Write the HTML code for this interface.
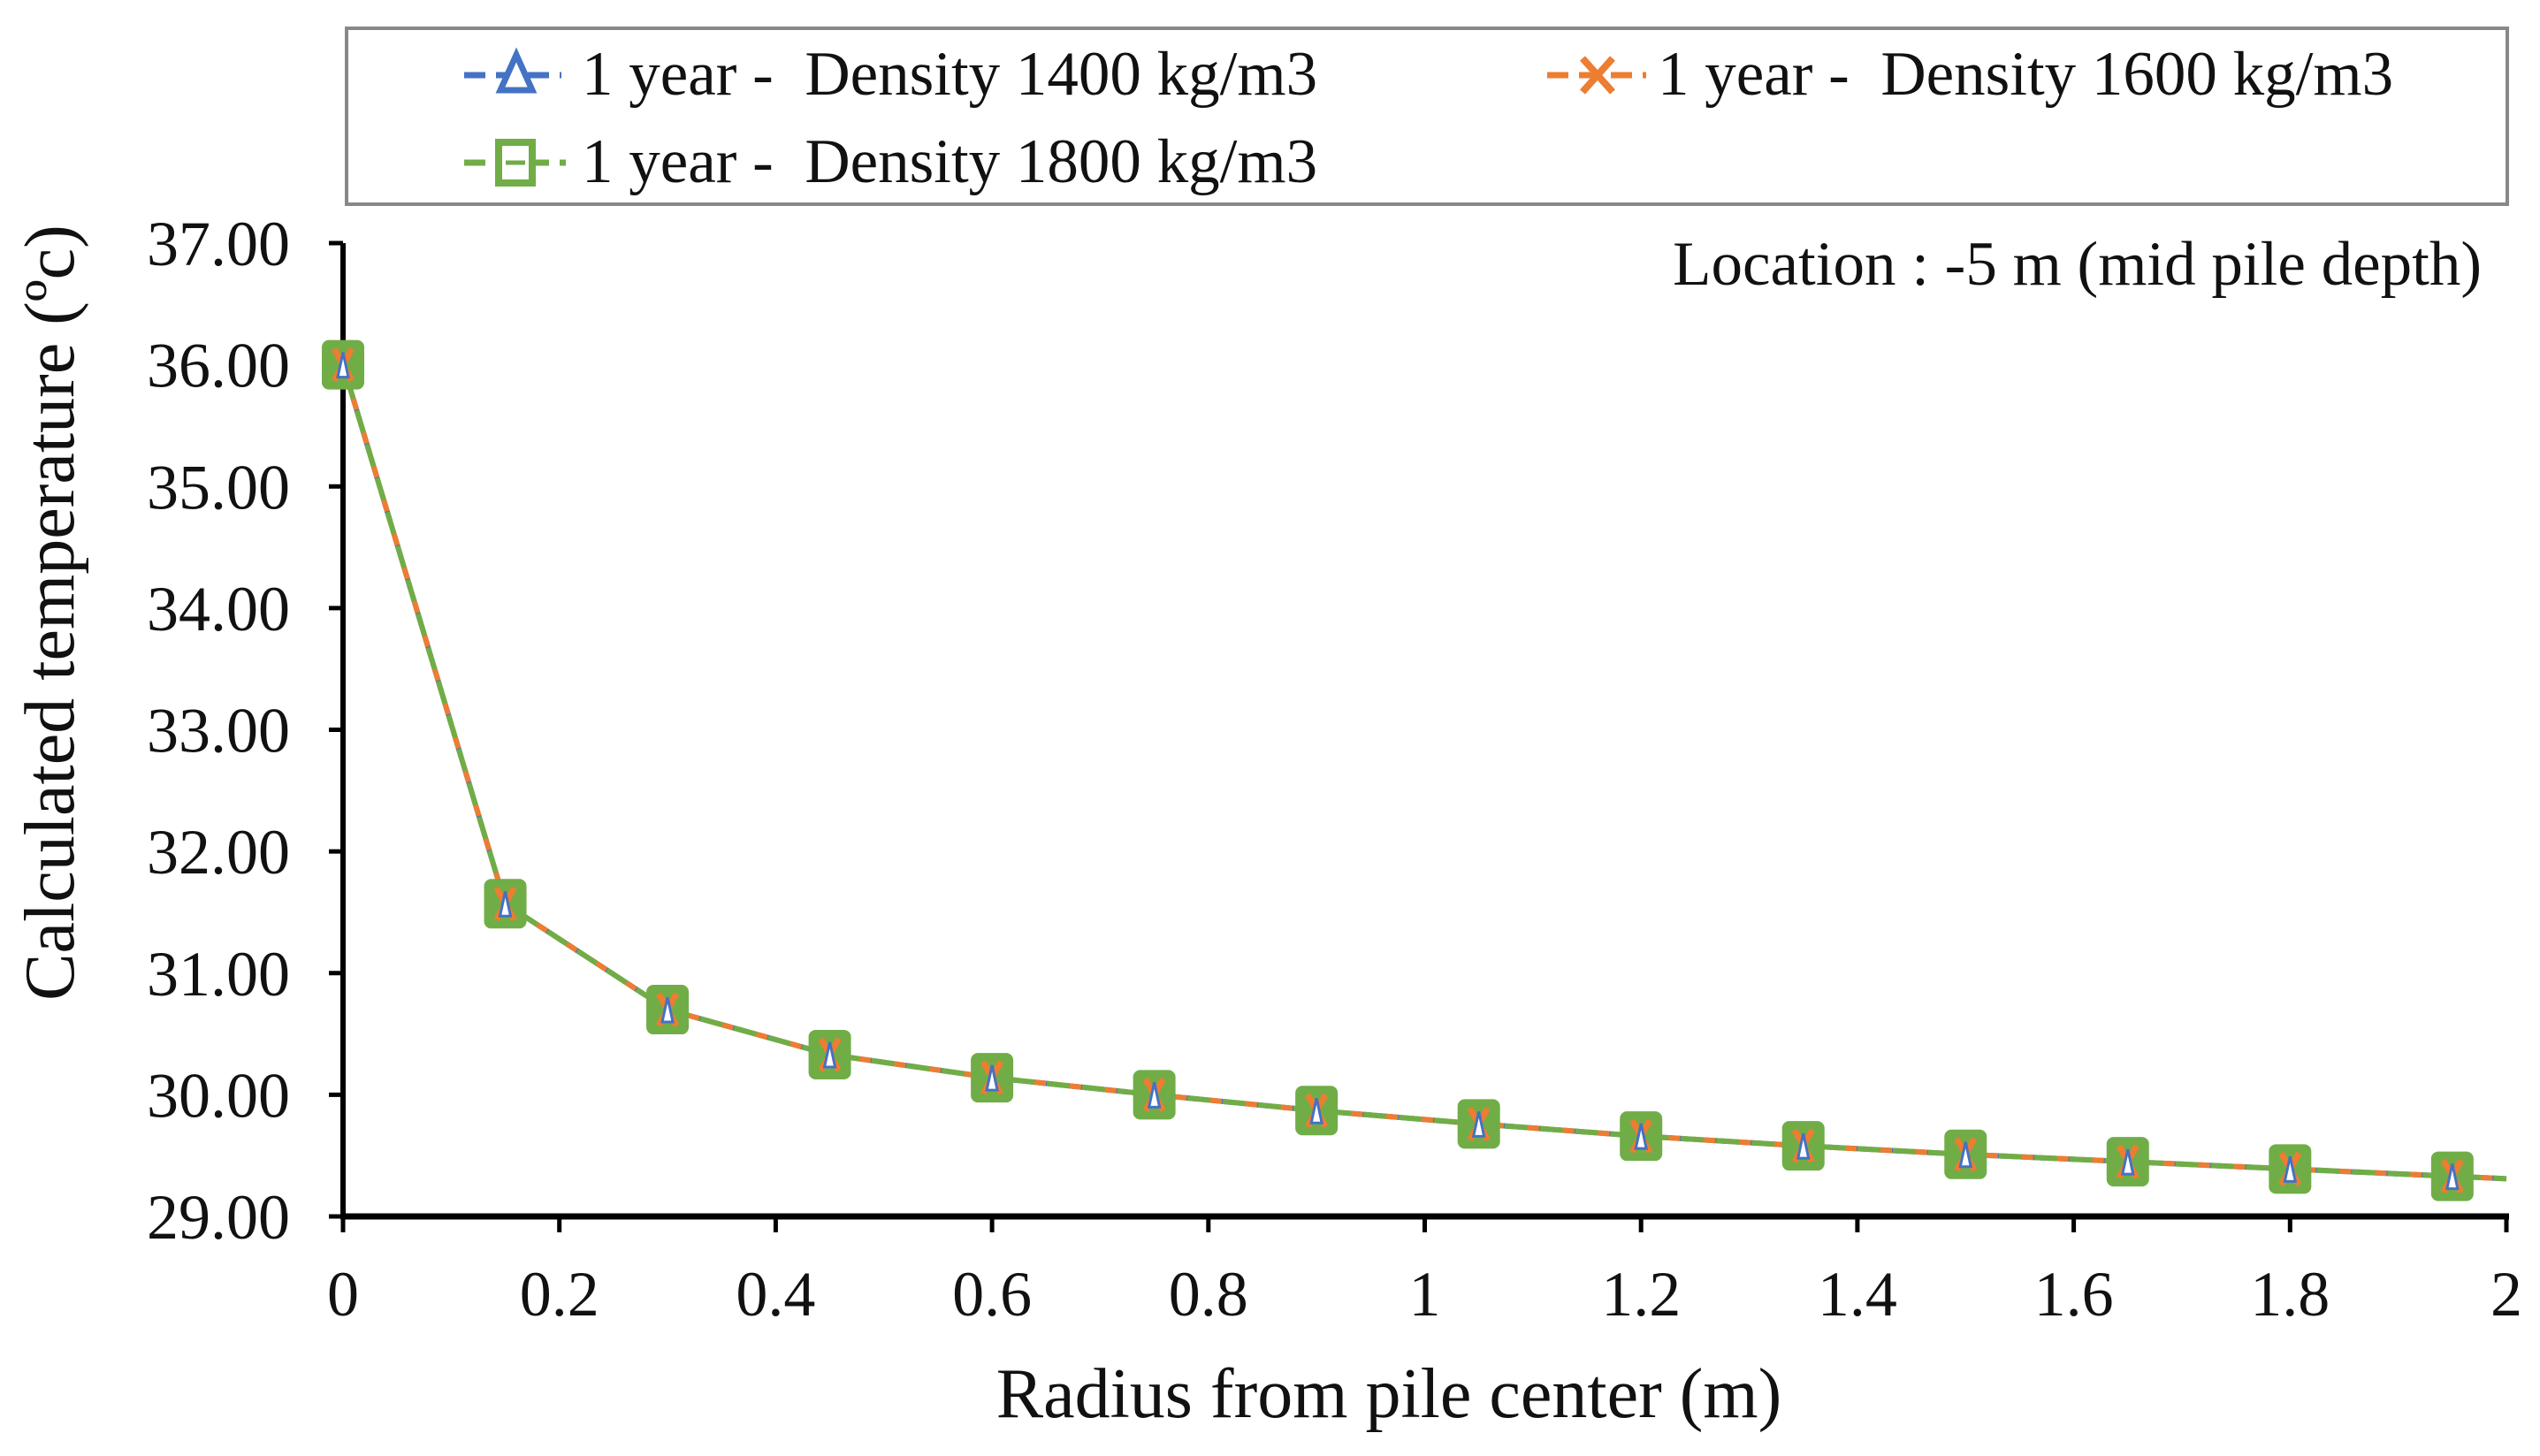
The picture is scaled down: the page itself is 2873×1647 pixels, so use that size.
<!DOCTYPE html>
<html><head><meta charset="utf-8"><style>
html,body{margin:0;padding:0;background:#fff;}
svg{display:block;font-family:"Liberation Serif",serif;}
text{white-space:pre;}
</style></head><body>
<svg width="2873" height="1647" viewBox="0 0 2873 1647">
<rect x="0" y="0" width="2873" height="1647" fill="#fff"/>
<g>
<rect x="392" y="32" width="2444" height="199" fill="#fff" stroke="#888" stroke-width="4"/>
<g>
<line x1="525" y1="85" x2="635" y2="85" stroke="#4472C4" stroke-width="7" stroke-dasharray="24,12"/>
<polygon points="584,62 566,102 602,102" fill="#fff" stroke="#4472C4" stroke-width="7"/>
<text x="658" y="107" font-size="71" fill="#111">1 year -  Density 1400 kg/m3</text>
</g>
<g>
<line x1="1750" y1="85" x2="1862" y2="85" stroke="#ED7D31" stroke-width="7" stroke-dasharray="24,12"/>
<path d="M1790,66 L1824,104 M1824,66 L1790,104" stroke="#ED7D31" stroke-width="8"/>
<text x="1875" y="107" font-size="71" fill="#111">1 year -  Density 1600 kg/m3</text>
</g>
<g>
<line x1="525" y1="184" x2="640" y2="184" stroke="#70AD47" stroke-width="7" stroke-dasharray="24,12"/>
<rect x="564" y="161" width="38" height="46" fill="#fff" stroke="#70AD47" stroke-width="8"/>
<line x1="572" y1="184" x2="594" y2="184" stroke="#70AD47" stroke-width="5"/>
<text x="658" y="206" font-size="71" fill="#111">1 year -  Density 1800 kg/m3</text>
</g>
</g>
<text x="2807" y="322" font-size="71" text-anchor="end" fill="#111">Location : -5 m (mid pile depth)</text>
<g id="axes"></g>
<g id="series"></g>
<text x="1571" y="1603" font-size="80" text-anchor="middle" fill="#111">Radius from pile center (m)</text>
<text transform="translate(83,693) rotate(-90)" font-size="80" text-anchor="middle" fill="#111">Calculated temperature (ºc)</text>
</svg>
<script>
const xs = [0,0.15,0.3,0.45,0.6,0.75,0.9,1.05,1.2,1.35,1.5,1.65,1.8,1.95,2.0];
const d1400 = [36.0,31.57,30.70,30.33,30.14,30.0,29.87,29.76,29.66,29.58,29.51,29.45,29.39,29.33,29.31];
const d1600 = [36.0,31.57,30.70,30.33,30.14,30.0,29.87,29.76,29.66,29.58,29.51,29.45,29.39,29.33,29.31];
const d1800 = [36.0,31.57,30.70,30.33,30.14,30.0,29.87,29.76,29.66,29.58,29.51,29.45,29.39,29.33,29.31];
const markerCount = 14;
const xTicks = [0,0.2,0.4,0.6,0.8,1,1.2,1.4,1.6,1.8,2];
const xTickLabels = ["0","0.2","0.4","0.6","0.8","1","1.2","1.4","1.6","1.8","2"];
const yTicks = [29,30,31,32,33,34,35,36,37];
const yTickLabels = ["29.00","30.00","31.00","32.00","33.00","34.00","35.00","36.00","37.00"];
const NS="http://www.w3.org/2000/svg";
const X=v=>388+(v-0)/(2-0)*(2835-388);
const Y=v=>1376-(v-29)/(37-29)*(1376-275);
function mk(tag,attrs,parent){const e=document.createElementNS(NS,tag);for(const k in attrs)e.setAttribute(k,attrs[k]);parent.appendChild(e);return e;}
const ax=document.getElementById('axes');
let a=mk('line',{x1:388,y1:275,x2:388,y2:1376,stroke:'#000','stroke-width':6},ax);


a=mk('line',{x1:385,y1:1376,x2:2838,y2:1376,stroke:'#000','stroke-width':7},ax);


yTicks.forEach((v,i)=>{
 const t=mk('line',{x1:372,y1:Y(v),x2:388,y2:Y(v),stroke:'#000','stroke-width':5},ax);
 
 
 const l=mk('text',{x:328,y:Y(v)+25,'font-size':72,'text-anchor':'end',fill:'#111'},ax);
 l.textContent=yTickLabels[i];
 
 
});
xTicks.forEach((v,i)=>{
 const t=mk('line',{x1:X(v),y1:1376,x2:X(v),y2:1394,stroke:'#000','stroke-width':5},ax);
 
 
 const l=mk('text',{x:X(v),y:1488,'font-size':72,'text-anchor':'middle',fill:'#111'},ax);
 l.textContent=xTickLabels[i];
 
 
});
const sg=document.getElementById('series');
const series=[[d1400,'#4472C4','tri','series-1400'],[d1600,'#ED7D31','x','series-1600'],[d1800,'#70AD47','sq','series-1800']];
series.forEach(([d,c,m,name],si)=>{
 const pts=xs.map((x,i)=>X(x)+','+Y(d[i])).join(' ');
 const p=mk('polyline',{points:pts,fill:'none',stroke:c,'stroke-width':6,'stroke-dasharray':'26,14','stroke-dashoffset':si*13},sg);
 
 
});
[2,1,0].forEach(si=>{
 const [d,c,m,name]=series[si];
 for(let i=0;i<markerCount;i++){
  const cx=X(xs[i]),cy=Y(d[i]);let e;
  if(m==='sq') e=mk('rect',{x:cx-19,y:cy-23,width:38,height:46,fill:'#70AD47',stroke:c,'stroke-width':10,rx:3},sg);
  else if(m==='x') e=mk('path',{d:`M${cx-10},${cy-18} L${cx+10},${cy+18} M${cx+10},${cy-18} L${cx-10},${cy+18}`,stroke:c,'stroke-width':7,fill:'none'},sg);
  else e=mk('polygon',{points:`${cx},${cy-14} ${cx-6},${cy+14} ${cx+6},${cy+14}`,fill:'#fff',stroke:c,'stroke-width':3},sg);
  
  
 }
});
</script>
</body></html>
